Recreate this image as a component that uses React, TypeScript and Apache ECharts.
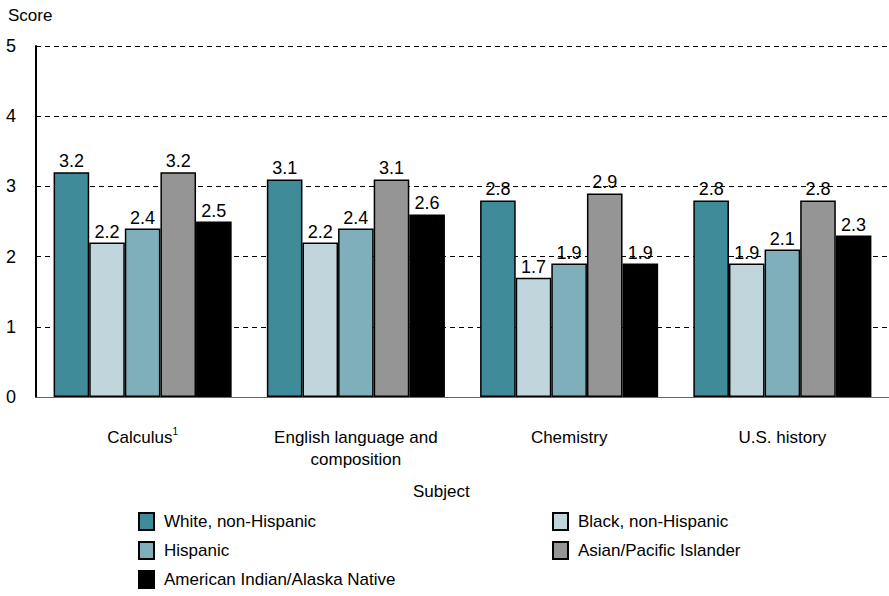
import React, { useEffect, useRef } from "react";
import * as echarts from "echarts";

const categories = ["Calculus{sup|1}", "English language and\ncomposition", "Chemistry", "U.S. history"];
const seriesNames = [
  "White, non-Hispanic",
  "Black, non-Hispanic",
  "Hispanic",
  "Asian/Pacific Islander",
  "American Indian/Alaska Native",
];
const white = [3.2, 3.1, 2.8, 2.8];
const black = [2.2, 2.2, 1.7, 1.9];
const hispanic = [2.4, 2.4, 1.9, 2.1];
const asian = [3.2, 3.1, 2.9, 2.8];
const aian = [2.5, 2.6, 1.9, 2.3];
const colors = ["#408b99", "#c0d6dc", "#7fafbb", "#959595", "#000000"];
const yTicks = [0, 1, 2, 3, 4, 5];

const FONT = "'Liberation Sans', Arial, sans-serif";

export default function App() {
  const ref = useRef<HTMLDivElement>(null);
  useEffect(() => {
    const chart = echarts.init(ref.current!, null, { renderer: "svg" });
    const data = [white, black, hispanic, asian, aian];
    const legendCommon = {
      orient: "vertical",
      top: 512,
      padding: 0,
      height: 90,
      itemWidth: 15,
      itemHeight: 17,
      itemGap: 10,
      icon: "rect",
      textStyle: { fontSize: 17, color: "#000", fontFamily: FONT, padding: [0, 0, 0, 5] },
      selectedMode: false,
    };
    chart.setOption({
      animation: false,
      textStyle: { fontFamily: FONT },
      grid: { left: 36, right: 0, top: 46, bottom: 199 },
      xAxis: {
        type: "category",
        data: categories,
        axisLine: { lineStyle: { color: "#666", width: 1 } },
        axisTick: { show: false },
        axisLabel: {
          color: "#000",
          fontSize: 17,
          fontFamily: FONT,
          margin: 29,
          lineHeight: 22,
          rich: { sup: { fontSize: 10, verticalAlign: "top", padding: [0, 0, 8, 0], fontFamily: FONT, color: "#000" } },
        },
      },
      yAxis: {
        type: "value",
        min: yTicks[0],
        max: yTicks[yTicks.length - 1],
        interval: 1,
        axisLine: { show: true, lineStyle: { color: "#000", width: 2 } },
        axisTick: { show: false },
        axisLabel: { color: "#000", fontSize: 18, fontFamily: FONT, margin: 20 },
        splitLine: {
          lineStyle: { color: "#000", type: [5, 4], width: 1 },
        },
      },
      legend: [
        { ...legendCommon, data: [seriesNames[0], seriesNames[2], seriesNames[4]], left: 138 },
        { ...legendCommon, data: [seriesNames[1], seriesNames[3]], left: 552 },
      ],
      graphic: [
        { type: "text", left: 8, top: 7, style: { text: "Score", fontSize: 17, fill: "#000", fontFamily: FONT } },
        { type: "text", left: 413, top: 483, style: { text: "Subject", fontSize: 17, fill: "#000", fontFamily: FONT } },
      ],
      series: data.map((d, i) => ({
        name: seriesNames[i],
        type: "bar",
        data: d,
        barGap: "0%",
        barCategoryGap: "16.5%",
        itemStyle: { color: colors[i], borderColor: "#000", borderWidth: 1.5 },
        label: {
          show: true,
          position: "top",
          color: "#000",
          fontSize: 18,
          fontFamily: FONT,
          distance: 2,
          formatter: (p: any) => p.value.toFixed(1),
        },
      })),
    });
    return () => chart.dispose();
  }, []);
  return <div ref={ref} style={{ width: 889, height: 596, position: "absolute", left: 0, top: 0 }} />;
}
